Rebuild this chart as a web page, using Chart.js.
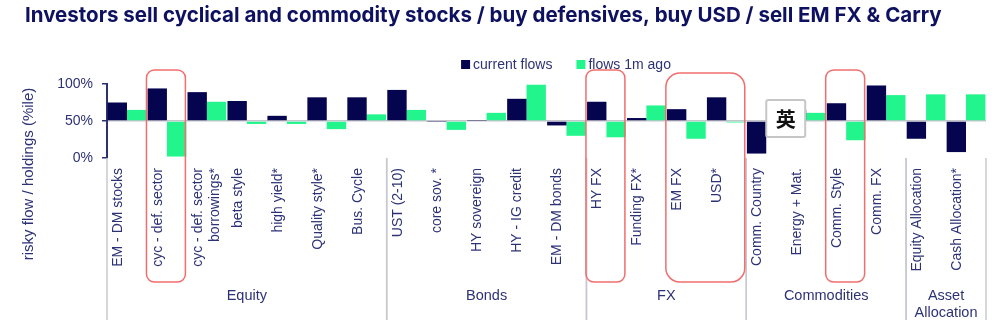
<!DOCTYPE html>
<html>
<head>
<meta charset="utf-8">
<script src="https://cdn.jsdelivr.net/npm/chart.js@4.4.0/dist/chart.umd.min.js"></script>
<style>
  html, body { margin: 0; padding: 0; background: #fff; }
  #wrap { width: 1006px; height: 325px; position: relative; }
</style>
</head>
<body>
<div id="wrap"><canvas id="flows"></canvas></div>
<script>
var chartTitle = 'Investors sell cyclical and commodity stocks / buy defensives, buy USD / sell EM FX & Carry';
var yTitle = 'risky flow / holdings (%ile)';

var categories = [
    'EM - DM stocks', 'cyc - def. sector', ['cyc - def. sector', 'borrowings*'], 'beta style', 'high yield*', 'Quality style*', 'Bus. Cycle',
    'UST (2-10)', 'core sov. *', 'HY sovereign', 'HY - IG credit', 'EM - DM bonds',
    'HY FX', 'Funding FX*', 'EM FX', 'USD*',
    'Comm. Country', 'Energy + Mat.', 'Comm. Style', 'Comm. FX',
    'Equity Allocation', 'Cash Allocation*'
];
var groupNames = ['Equity', 'Bonds', 'FX', 'Commodities', ['Asset', 'Allocation']];
var groupSizes = [7, 5, 4, 4, 2];

var currentFlows = [75, 94, 89, 77, 57, 82, 82, 92, 49.5, 50.5, 80, 44, 76, 54, 66, 82, 6, 65, 74, 98, 26, 8];
var flows1mAgo   = [65, 2, 76, 46, 46, 39, 59, 65, 38, 61, 99, 30, 28, 71, 26, 48, 60, 61, 24, 85, 86, 86];

var yTicks = [0, 50, 100];
// categories circled in red (first index, last index)
var boxed = [[1, 1], [12, 12], [14, 15], [18, 18]];

var navy = '#04044f';
var green = '#22f58c';
var textColor = '#2d3275';
var font = '"Liberation Sans", Arial, sans-serif';

var decor = {
    id: 'decor',
    beforeDraw: function (chart) {
        var ctx = chart.ctx;
        ctx.save();
        ctx.fillStyle = '#fff';
        ctx.fillRect(0, 0, chart.width, chart.height);
        ctx.restore();
    },
    afterDraw: function (chart) {
        var ctx = chart.ctx;
        var xs = chart.scales.x;
        var area = chart.chartArea;
        var half = (xs.getPixelForValue(1) - xs.getPixelForValue(0)) / 2;
        ctx.save();

        // title
        ctx.fillStyle = '#0d1160';
        ctx.font = 'bold 20.5px Inter, sans-serif';
        ctx.textBaseline = 'alphabetic';
        ctx.textAlign = 'left';
        ctx.fillText(chartTitle, 25, 22);

        // legend
        ctx.font = '14px ' + font;
        ctx.textBaseline = 'middle';
        var sets = chart.data.datasets;
        var total = 0;
        sets.forEach(function (d, i) {
            total += 12 + ctx.measureText(d.label).width + (i > 0 ? 24 : 0);
        });
        var lx = 566 - total / 2;
        sets.forEach(function (d) {
            ctx.fillStyle = d.backgroundColor;
            ctx.fillRect(lx, 60, 9, 9);
            ctx.fillStyle = textColor;
            ctx.fillText(d.label, lx + 12, 65);
            lx += 12 + ctx.measureText(d.label).width + 24;
        });

        // y axis title
        ctx.save();
        ctx.translate(29, 174);
        ctx.rotate(-Math.PI / 2);
        ctx.textAlign = 'center';
        ctx.font = '15px ' + font;
        ctx.fillText(yTitle, 0, 0);
        ctx.restore();

        // group separators and names
        ctx.strokeStyle = '#c8c8d2';
        ctx.lineWidth = 1.5;
        ctx.textAlign = 'center';
        ctx.font = '14.5px ' + font;
        var start = 0;
        groupSizes.forEach(function (n, g) {
            var left = xs.getPixelForValue(start) - half;
            var right = xs.getPixelForValue(start + n - 1) + half;
            [left, right].forEach(function (px) {
                ctx.beginPath();
                ctx.moveTo(px, area.bottom);
                ctx.lineTo(px, 320);
                ctx.stroke();
            });
            var name = [].concat(groupNames[g]);
            ctx.fillStyle = textColor;
            name.forEach(function (line, k) {
                ctx.fillText(line, (left + right) / 2, 296 + k * 16.5);
            });
            start += n;
        });

        // red highlight boxes
        ctx.strokeStyle = '#f26d6d';
        ctx.lineWidth = 1.5;
        boxed.forEach(function (b) {
            var l = xs.getPixelForValue(b[0]) - half - 0.5;
            var r = xs.getPixelForValue(b[1]) + half - 1.5;
            var wide = b[1] > b[0];
            var top = wide ? area.top - 11 : area.top - 14;
            ctx.beginPath();
            ctx.roundRect(l, top, r - l, 282 - top, wide ? 14 : 8);
            ctx.stroke();
        });

        // input method badge sitting over the chart
        var bl = xs.getPixelForValue(16);
        var br = xs.getPixelForValue(17) - 1;
        ctx.fillStyle = '#fff';
        ctx.strokeStyle = '#c6c6c6';
        ctx.lineWidth = 2;
        ctx.beginPath();
        ctx.roundRect(bl, 100, br - bl, 37, 2);
        ctx.fill();
        ctx.stroke();
        ctx.fillStyle = '#111';
        ctx.font = 'bold 20px "Noto Sans CJK SC", sans-serif';
        ctx.textBaseline = 'middle';
        ctx.fillText('英', (bl + br) / 2, 119);

        ctx.restore();
    }
};

new Chart(document.getElementById('flows'), {
    type: 'bar',
    data: {
        labels: categories,
        datasets: [
            { label: 'current flows', data: currentFlows, backgroundColor: navy, base: 50, categoryPercentage: 0.97, barPercentage: 1 },
            { label: 'flows 1m ago', data: flows1mAgo, backgroundColor: green, base: 50, categoryPercentage: 0.97, barPercentage: 1 }
        ]
    },
    options: {
        responsive: true,
        maintainAspectRatio: false,
        devicePixelRatio: 1,
        animation: false,
        layout: { padding: { top: 84, right: 20, bottom: 0, left: 0 } },
        plugins: {
            legend: { display: false },
            title: { display: false },
            tooltip: { enabled: false }
        },
        scales: {
            x: {
                afterFit: function (s) { s.height = 167; },
                grid: { display: false, drawTicks: false },
                border: { display: false },
                ticks: {
                    autoSkip: false,
                    minRotation: 90,
                    maxRotation: 90,
                    padding: 10,
                    labelOffset: -9,
                    color: textColor,
                    font: { family: font, size: 14 }
                }
            },
            y: {
                min: 0,
                max: 100,
                afterFit: function (s) { s.width = 107; },
                afterBuildTicks: function (s) { s.ticks = yTicks.map(function (v) { return { value: v }; }); },
                border: { color: '#2c3170', width: 2 },
                grid: {
                    color: function (c) { return c.tick && c.tick.value === 50 ? '#c4c4cc' : 'rgba(0,0,0,0)'; },
                    lineWidth: 1.5,
                    tickColor: '#2c3170',
                    tickLength: 5
                },
                ticks: {
                    padding: 9,
                    color: textColor,
                    font: { family: font, size: 14 },
                    callback: function (v) { return v + '%'; }
                }
            }
        }
    },
    plugins: [decor]
});
</script>
</body>
</html>
